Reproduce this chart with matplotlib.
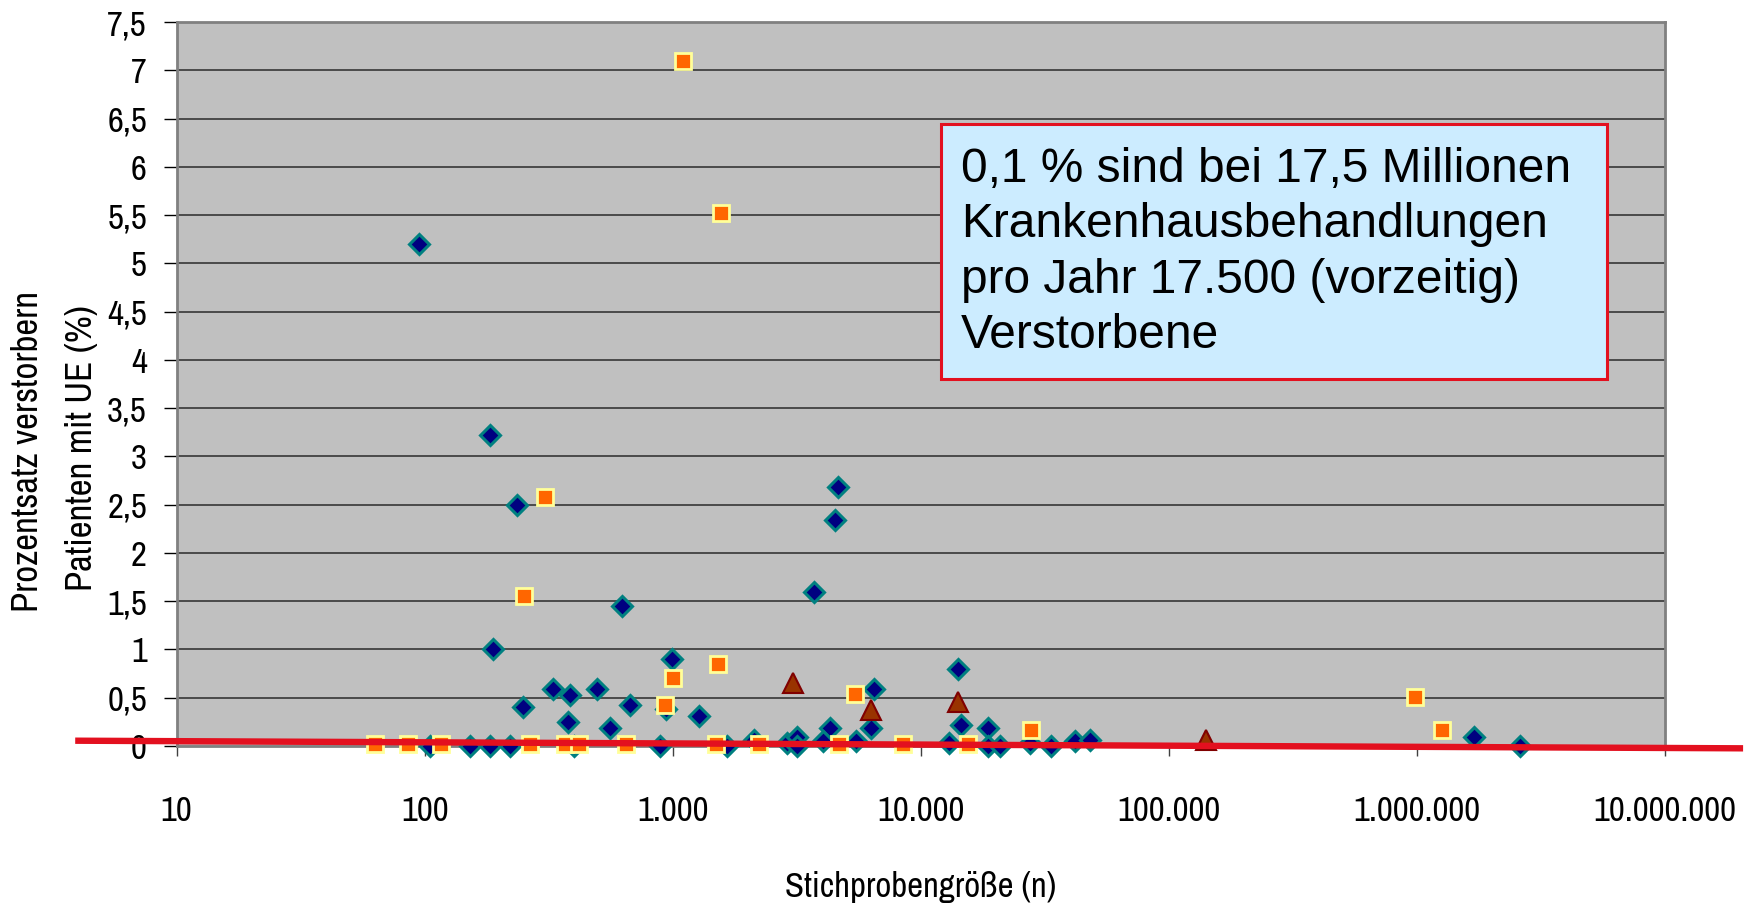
"""
Streudiagramm: Prozentsatz verstorbener Patienten mit UE vs. Stichprobengröße.
"""

import matplotlib
matplotlib.use("Agg")
import matplotlib.pyplot as plt
from matplotlib import font_manager
from matplotlib.patches import Rectangle


# ============================================================
# Daten
# ============================================================

# Serie 1: Rauten
diamond_n = [95, 184, 235, 189, 624, 249, 328, 387, 378, 497, 558, 674, 995,
             940, 1280, 4660, 4530, 3725, 14090, 6490, 6310, 4290, 14530,
             18620, 1710000, 2600000,
             105, 153, 183, 220, 399, 891, 1660, 2128, 2900, 3162, 3162,
             4025, 5480, 13030, 18620, 20890, 27600, 33400, 41900, 48200]
diamond_pct = [5.2, 3.22, 2.5, 1.0, 1.45, 0.40, 0.59, 0.53, 0.25, 0.59, 0.19,
               0.43, 0.90, 0.38, 0.31, 2.68, 2.34, 1.60, 0.80, 0.59, 0.19,
               0.19, 0.22, 0.19, 0.09, 0.0,
               0.0, 0.0, 0.0, 0.0, 0.0, 0.0, 0.0, 0.06, 0.03, 0.09, 0.0,
               0.05, 0.05, 0.03, 0.0, 0.0, 0.03, 0.0, 0.05, 0.06]

# Serie 2: Quadrate
square_n = [1100, 1570, 305, 252, 1528, 1000, 934, 5420, 27900, 982000, 1270000,
            63, 86, 116, 267, 367, 421, 649, 1500, 2220, 4700, 8450, 15560]
square_pct = [7.1, 5.52, 2.58, 1.55, 0.85, 0.70, 0.42, 0.54, 0.17, 0.51, 0.17,
              0.02, 0.02, 0.02, 0.02, 0.02, 0.02, 0.02, 0.02, 0.02, 0.02, 0.02, 0.02]

# Serie 3: Dreiecke
triangle_n = [3060, 6310, 14090, 142000]
triangle_pct = [0.65, 0.37, 0.46, 0.06]

# Rote Linie (Endpunkte, ragt über die Achsen hinaus)
line_n = [3.9, 2.07e7]
line_pct = [0.055, -0.024]

x_ticks = [10, 100, 1000, 10000, 100000, 1000000, 10000000]
x_tick_labels = ["10", "100", "1.000", "10.000", "100.000", "1.000.000", "10.000.000"]
y_ticks = [0, 0.5, 1, 1.5, 2, 2.5, 3, 3.5, 4, 4.5, 5, 5.5, 6, 6.5, 7, 7.5]
y_tick_labels = ["0", "0,5", "1", "1,5", "2", "2,5", "3", "3,5", "4", "4,5",
                 "5", "5,5", "6", "6,5", "7", "7,5"]

box_text = ("0,1 % sind bei 17,5 Millionen\n"
            "Krankenhausbehandlungen\n"
            "pro Jahr 17.500 (vorzeitig)\n"
            "Verstorbene")


# ============================================================
# Schriften (schmale Schrift wie Arial Narrow, falls vorhanden)
# ============================================================

installed = {f.name for f in font_manager.fontManager.ttflist}
candidates = ["Arial Narrow", "Liberation Sans Narrow", "Archivo Narrow",
              "Roboto Condensed", "PT Sans Narrow", "IBM Plex Sans Condensed",
              "Barlow Semi Condensed"]
narrow = [f for f in candidates if f in installed][:1]
narrow_family = narrow + ["DejaVu Sans"]

plt.rcParams.update({
    "font.family": narrow_family,
    "font.size": 25,
    "figure.facecolor": "white",
    "savefig.facecolor": "white",
})


# ============================================================
# Plot
# ============================================================

fig = plt.figure(figsize=(17.54, 9.07), dpi=100)
ax = fig.add_axes([0.1007, 0.1775, 0.8484, 0.7982])
ax.set_facecolor("#C0C0C0")

ax.set_xscale("log")
ax.set_xlim(10, 10000000)
ax.set_ylim(0, 7.5)

# Gitterlinien
for yv in y_ticks[1:-1]:
    ax.axhline(yv, color="#2a2a2a", linewidth=1.1, zorder=1)

ax.plot(diamond_n, diamond_pct, linestyle="none", marker="D", markersize=9.8,
        markerfacecolor="#000080", markeredgecolor="#008080",
        markeredgewidth=2.2, zorder=3, clip_on=False)
ax.plot(square_n, square_pct, linestyle="none", marker="s", markersize=11.5,
        markerfacecolor="#FF6600", markeredgecolor="#FFFF99",
        markeredgewidth=2.0, zorder=4, clip_on=False)
ax.plot(triangle_n, triangle_pct, linestyle="none", marker="^", markersize=14,
        markerfacecolor="#993300", markeredgecolor="#800000",
        markeredgewidth=1.5, zorder=5, clip_on=False)

# Trendlinie in Rot
ax.plot(line_n, line_pct, color="#E3101F", linewidth=4.6,
        solid_capstyle="butt", zorder=6, clip_on=False)

# Achsen
ax.set_xticks(x_ticks)
ax.set_xticklabels(x_tick_labels)
ax.xaxis.set_minor_locator(matplotlib.ticker.NullLocator())
ax.set_yticks(y_ticks)
ax.set_yticklabels(y_tick_labels)

ax.tick_params(axis="x", direction="out", length=7, width=1.0,
               color="#404040", pad=28, labelsize=25)
ax.tick_params(axis="y", direction="out", length=9.4, width=1.0,
               color="black", pad=12, labelsize=25)

for side in ["left", "top", "right", "bottom"]:
    ax.spines[side].set_color("#808080")
    ax.spines[side].set_linewidth(2.0)

# Beschriftungen
fig.text(0.525, 1 - 887 / 907, "Stichprobengröße (n)", ha="center",
         va="center", fontsize=25)
fig.text(27.5 / 1754, 1 - 451 / 907, "Prozentsatz verstorbern", rotation=90,
         ha="center", va="center", fontsize=26.5)
fig.text(82 / 1754, 1 - 448 / 907, "Patienten mit UE (%)", rotation=90,
         ha="center", va="center", fontsize=26.5)

# Textkasten
box = Rectangle((0.5134, 0.5069), 0.9612 - 0.5134, 0.8591 - 0.5069,
                transform=ax.transAxes, facecolor="#CCECFF",
                edgecolor="#E3101F", linewidth=2.2, zorder=7)
ax.add_patch(box)
ax.text(0.5271, 0.828, box_text, transform=ax.transAxes, ha="left", va="top",
        fontsize=34.5, family=["Liberation Sans", "DejaVu Sans"],
        linespacing=1.30, zorder=8)

fig.savefig("out.png", dpi=100)
plt.close(fig)
